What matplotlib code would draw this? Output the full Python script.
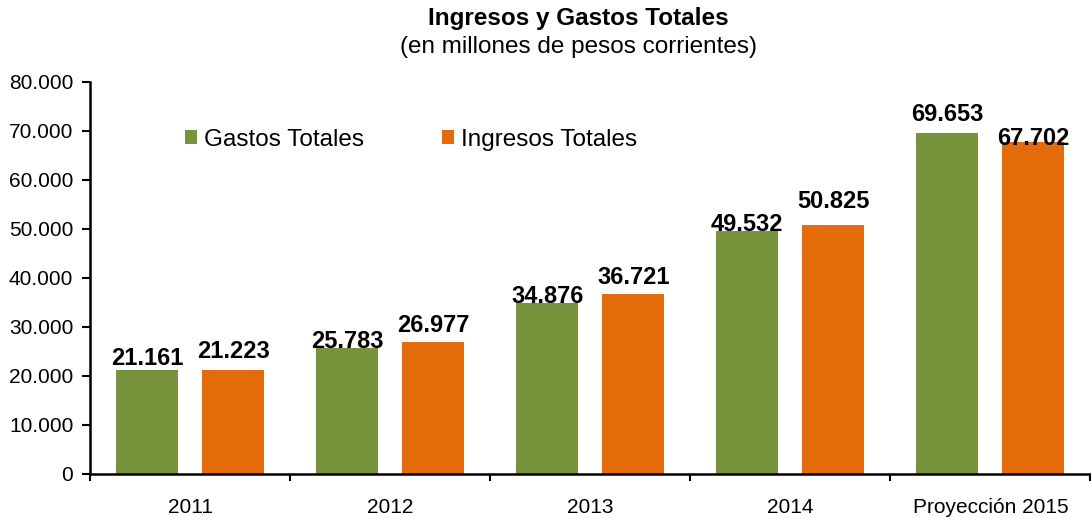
import matplotlib
matplotlib.use('AGG')
import matplotlib.pyplot as plt
import numpy as np
from matplotlib.ticker import FuncFormatter

categories = ['2011', '2012', '2013', '2014', 'Proyección 2015']
gastos = [21161, 25783, 34876, 49532, 69653]
ingresos = [21223, 26977, 36721, 50825, 67702]

# vertical nudge of the value labels (points), as placed in the original
gastos_dy = [3.5, -0.5, 0, 0, 8]
ingresos_dy = [8.5, 7, 7, 12, -2]

green = '#77933C'
orange = '#E46C0A'

plt.rcParams['font.family'] = ['Liberation Sans', 'DejaVu Sans']

fig = plt.figure(figsize=(10.91, 5.18), dpi=100)
ax = fig.add_axes([0.0825, 0.085, 0.917, 0.757])

x = np.arange(len(categories))
w = 0.31
off = 0.215
b1 = ax.bar(x - off, gastos, w, color=green, label='Gastos Totales')
b2 = ax.bar(x + off, ingresos, w, color=orange, label='Ingresos Totales')

def fmt(v):
    return '{:,}'.format(int(v)).replace(',', '.')

for bars, vals, dys in ((b1, gastos, gastos_dy), (b2, ingresos, ingresos_dy)):
    for bar, v, dy in zip(bars, vals, dys):
        ax.annotate(fmt(v), (bar.get_x() + bar.get_width() / 2, v),
                    xytext=(0, dy), textcoords='offset points',
                    ha='center', va='baseline', fontsize=17, fontweight='bold')

ax.set_xlim(-0.5, len(categories) - 0.5)
ax.set_ylim(0, 80000)
ax.set_yticks(np.arange(0, 80001, 10000))
ax.yaxis.set_major_formatter(FuncFormatter(lambda v, p: fmt(v)))
ax.set_xticks(x)
ax.set_xticklabels(categories)
ax.set_xticks(np.arange(-0.5, len(categories)), minor=True)
ax.tick_params(axis='x', which='major', length=0, pad=17, labelsize=15)
ax.tick_params(axis='x', which='minor', length=5, width=1.5, direction='out')
ax.tick_params(axis='y', length=6, width=1.5, direction='out', labelsize=15, pad=6)

ax.spines['right'].set_visible(False)
ax.spines['top'].set_visible(False)
ax.spines['left'].set_linewidth(1.8)
ax.spines['bottom'].set_linewidth(1.8)

ax.legend(loc='center left', bbox_to_anchor=(0.073, 0.852), ncol=2, frameon=False,
          fontsize=17.5, handlelength=0.5, handleheight=0.5, handletextpad=0.29,
          columnspacing=3.2)

fig.text(0.53, 0.964, 'Ingresos y Gastos Totales', ha='center', va='center',
         fontsize=17.5, fontweight='bold')
fig.text(0.53, 0.909, '(en millones de pesos corrientes)', ha='center', va='center',
         fontsize=17.5)

plt.savefig('out.png', dpi=100)
